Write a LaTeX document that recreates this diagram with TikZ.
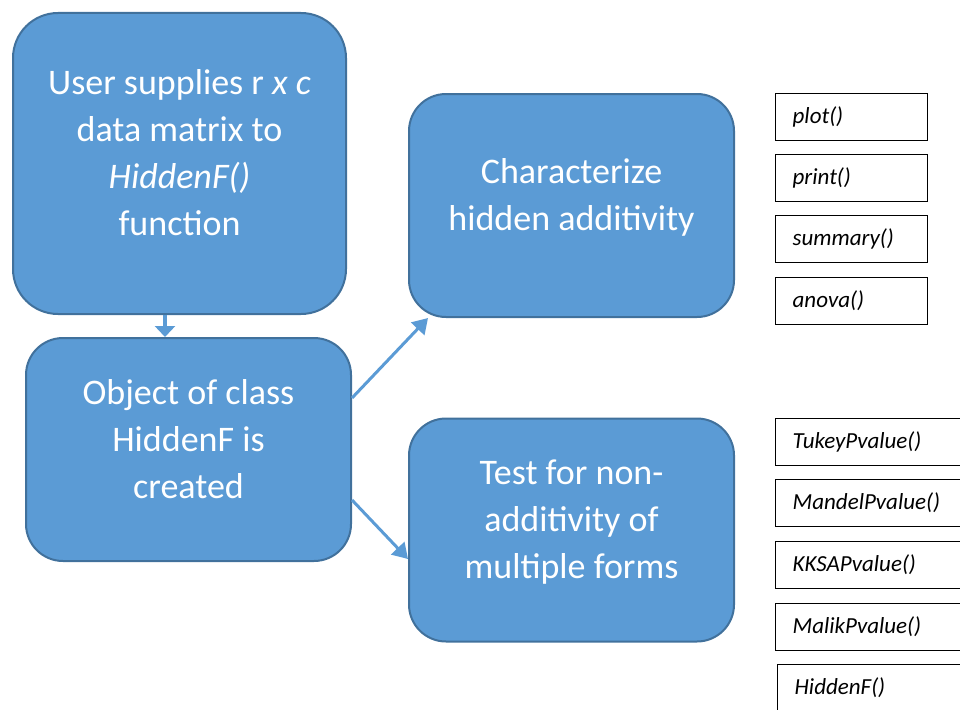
\documentclass[tikz,border=0pt]{standalone}
\usepackage{fontspec}
\setmainfont{Carlito}
\usetikzlibrary{arrows.meta}

\definecolor{boxblue}{HTML}{5B9BD5}
\definecolor{boxedge}{HTML}{41719C}
\newcommand{\lowpad}{\rule[-22pt]{0pt}{0pt}}

\tikzset{
    bigbox/.style={shape=rectangle, rounded corners=37pt, draw=boxedge, line width=2pt,
        fill=boxblue, text=white, align=center, font=\fontsize{36}{47}\selectfont,
        minimum width=325pt, minimum height=223pt},
    fnbox/.style={shape=rectangle, draw=black, line width=1.3pt, anchor=north west,
        align=left, inner xsep=17pt, inner ysep=0pt, minimum height=46.7pt, text width=118pt,
        font=\fontsize{23}{26}\selectfont\itshape},
    flow/.style={draw=boxblue, line width=3pt, -{Triangle[length=15pt,width=18pt]}}
}

\begin{document}
\begin{tikzpicture}[x=1pt,y=-1pt]
                \clip (0,0) rectangle (960,709);

                \node[bigbox, rounded corners=45pt, minimum width=333pt, minimum height=301pt] (user) at (179.5,163.5)
                    {User supplies r \textit{x c}\\data matrix to\\\textit{HiddenF()}\\function\lowpad};
                \node[bigbox] (object) at (188.5,449.5) {Object of class\\HiddenF is\\created\lowpad};
                \node[bigbox] (charact) at (571.5,205.5) {Characterize\\hidden additivity\lowpad};
                \node[bigbox] (test) at (571.5,530) {Test for non-\\additivity of\\multiple forms\lowpad};

                \node[fnbox] (plot) at (775,93) {plot()};
                \node[fnbox] (print) at (775,154) {print()};
                \node[fnbox] (summary) at (775,215) {summary()};
                \node[fnbox] (anova) at (775,277) {anova()};

                \node[fnbox, text width=165pt] (tukey) at (775,418) {TukeyPvalue()};
                \node[fnbox, text width=165pt] (mandel) at (775,479) {MandelPvalue()};
                \node[fnbox, text width=165pt] (kksap) at (775,541) {KKSAPvalue()};
                \node[fnbox, text width=165pt] (malik) at (775,603) {MalikPvalue()};
                \node[fnbox, text width=165pt] (hiddenf) at (777,664) {HiddenF()};

                \draw[flow, line width=4pt, -{Triangle[length=11pt,width=20pt]}] ([xshift=-14.5pt]user.south) -- ([xshift=-23.5pt]object.north);
                \draw[flow] ([yshift=51.5pt]object.east) -- ([xshift=20pt]charact.south west);
                \draw[flow] ([yshift=-50.5pt]object.east) -- ([yshift=-29pt]test.west);
            \end{tikzpicture}
\end{document}
